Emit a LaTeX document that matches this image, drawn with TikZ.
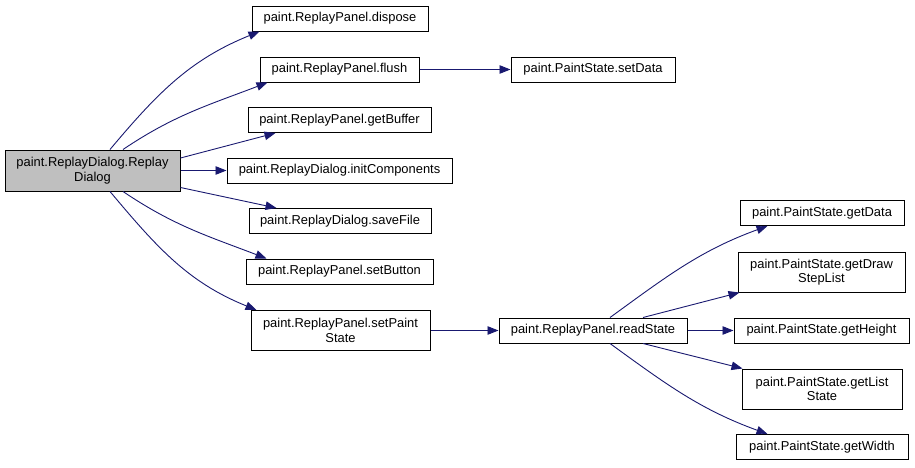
\documentclass[tikz,border=0pt]{standalone}
\usepackage{fontspec}
\setmainfont{Liberation Sans}
\usetikzlibrary{arrows.meta}
\definecolor{edgeblue}{HTML}{191970}
\definecolor{mainfill}{HTML}{BFBFBF}
\begin{document}
\begin{tikzpicture}[x=1pt, y=-1pt,
        fn/.style={draw=black, line width=1pt, fill=white, inner sep=0pt, minimum height=25pt, align=center,
            font=\fontsize{12.9}{14.5}\selectfont},
        call/.style={draw=edgeblue, line width=0.9pt, -{Triangle[length=11pt, width=8.5pt]}}]
        \useasboundingbox (0,0) rectangle (915,467);

        % Caller
        \node[fn, fill=mainfill, minimum width=175pt, minimum height=41pt] (dlg) at (92.5,170.5) {paint.ReplayDialog.Replay\\Dialog};

        % First level
        \node[fn, minimum width=176pt] (dispose) at (340,18.5) {paint.ReplayPanel.dispose};
        \node[fn, minimum width=159pt] (flush) at (339.5,69.5) {paint.ReplayPanel.flush};
        \node[fn, minimum width=183pt] (getBuffer) at (339.5,120) {paint.ReplayPanel.getBuffer};
        \node[fn, minimum width=225pt] (initComp) at (339.5,170.5) {paint.ReplayDialog.initComponents};
        \node[fn, minimum width=182pt] (saveFile) at (340,221) {paint.ReplayDialog.saveFile};
        \node[fn, minimum width=187pt] (setButton) at (339.5,271.5) {paint.ReplayPanel.setButton};
        \node[fn, minimum width=179pt, minimum height=40pt] (setPaint) at (340.5,330.5) {paint.ReplayPanel.setPaint\\State};

        % Second level
        \node[fn, minimum width=164pt] (setData) at (593,69.5) {paint.PaintState.setData};
        \node[fn, minimum width=188pt] (readState) at (593,330.5) {paint.ReplayPanel.readState};

        % Third level
        \node[fn, minimum width=164pt] (getData) at (822,213) {paint.PaintState.getData};
        \node[fn, minimum width=167pt, minimum height=40pt] (getDraw) at (821.5,272) {paint.PaintState.getDraw\\StepList};
        \node[fn, minimum width=175pt] (getHeight) at (821.5,330.5) {paint.PaintState.getHeight};
        \node[fn, minimum width=160pt, minimum height=40pt] (getList) at (822,389) {paint.PaintState.getList\\State};
        \node[fn, minimum width=172pt] (getWidth) at (822,447) {paint.PaintState.getWidth};

        % Calls from the dialog
        \draw[call] ([xshift=17.5pt]dlg.north) to[out=50, in=202] ([xshift=8pt]dispose.south west);
        \draw[call] ([xshift=30.5pt]dlg.north) to[out=34, in=201] ([xshift=8pt]flush.south west);
        \draw[call] ([yshift=12.5pt]dlg.east) -- ([xshift=28pt]getBuffer.south west);
        \draw[call] (dlg.east) -- (initComp.west);
        \draw[call] ([yshift=-17pt]dlg.east) -- ([xshift=28pt]saveFile.north west);
        \draw[call] ([xshift=30.5pt]dlg.south) to[out=-34, in=159] ([xshift=21pt]setButton.north west);
        \draw[call] ([xshift=17.5pt]dlg.south) to[out=-50, in=158] ([xshift=6pt]setPaint.north west);

        % Calls further on
        \draw[call] (flush.east) -- (setData.west);
        \draw[call] (setPaint.east) -- (readState.west);
        \draw[call] ([xshift=17pt]readState.north) to[out=36, in=200] ([xshift=28pt]getData.south west);
        \draw[call] ([xshift=50pt]readState.north) -- ([xshift=2pt]getDraw.south west);
        \draw[call] (readState.east) -- (getHeight.west);
        \draw[call] ([xshift=50pt]readState.south) -- ([xshift=1pt]getList.north west);
        \draw[call] ([xshift=17pt]readState.south) to[out=-36, in=160] ([xshift=32pt]getWidth.north west);
    \end{tikzpicture}
\end{document}
